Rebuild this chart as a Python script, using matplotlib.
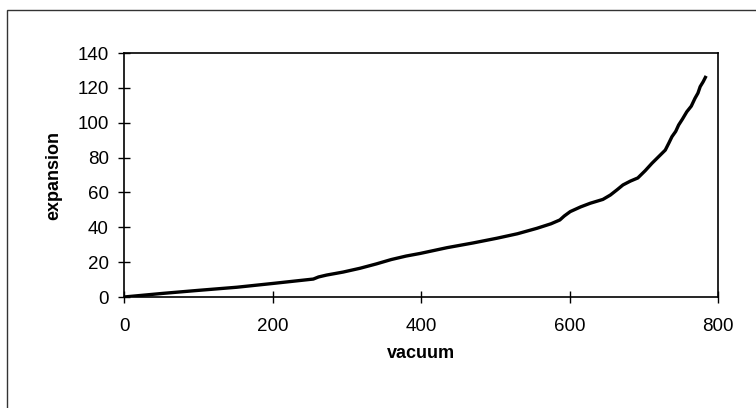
import matplotlib
matplotlib.use("Agg")
from matplotlib import pyplot as plt
from matplotlib.patches import Rectangle

vacuum = [0, 53, 100, 152, 201, 255, 262, 273, 295, 318, 340, 360, 380, 399, 435, 470,
          502, 530, 556, 575, 587, 593, 601, 615, 628, 645, 655, 664, 672, 682, 692,
          702, 711, 720, 729, 734, 738, 743, 747, 752, 758, 764, 769, 773, 776, 780, 783]
expansion = [0, 2.1, 3.8, 5.6, 7.8, 10.3, 11.5, 12.6, 14.3, 16.5, 19, 21.5, 23.5, 25,
             28.3, 31, 33.7, 36.3, 39.4, 42, 44.2, 46.5, 49, 51.7, 53.8, 56, 58.5, 61.5,
             64.3, 66.5, 68.3, 72.5, 76.7, 80.5, 84.3, 88.5, 92, 95, 98.7, 102, 106.3,
             109.5, 114, 117, 120.7, 123.5, 126]
x_ticks = [0, 200, 400, 600, 800]
y_ticks = [0, 20, 40, 60, 80, 100, 120, 140]

plt.rcParams['font.family'] = ['Liberation Sans', 'DejaVu Sans']

fig = plt.figure(figsize=(7.56, 4.08), dpi=100)
fig.patches.append(Rectangle((7 / 756, -0.05), 1.2, 1 - 10 / 408 + 0.05,
                             transform=fig.transFigure, fill=False,
                             edgecolor="#333333", linewidth=1.0))

ax = fig.add_axes([124 / 756, 1 - 297 / 408, 594 / 756, 244 / 408])
ax.plot(vacuum, expansion, color="black", linewidth=2.4)

ax.set_xlim(0, 800)
ax.set_ylim(0, 140)
ax.set_xticks(x_ticks)
ax.set_yticks(y_ticks)
ax.tick_params(axis="both", direction="inout", length=8, width=1, labelsize=13.5, color="black")
ax.tick_params(axis="x", pad=11)
ax.tick_params(axis="y", pad=7)
for s in ax.spines.values():
    s.set_linewidth(1.2)

ax.set_xlabel("vacuum", fontsize=13, fontweight="bold", labelpad=7)
ax.set_ylabel("expansion", fontsize=13, fontweight="bold", labelpad=11)

fig.savefig("out.png", dpi=100)
